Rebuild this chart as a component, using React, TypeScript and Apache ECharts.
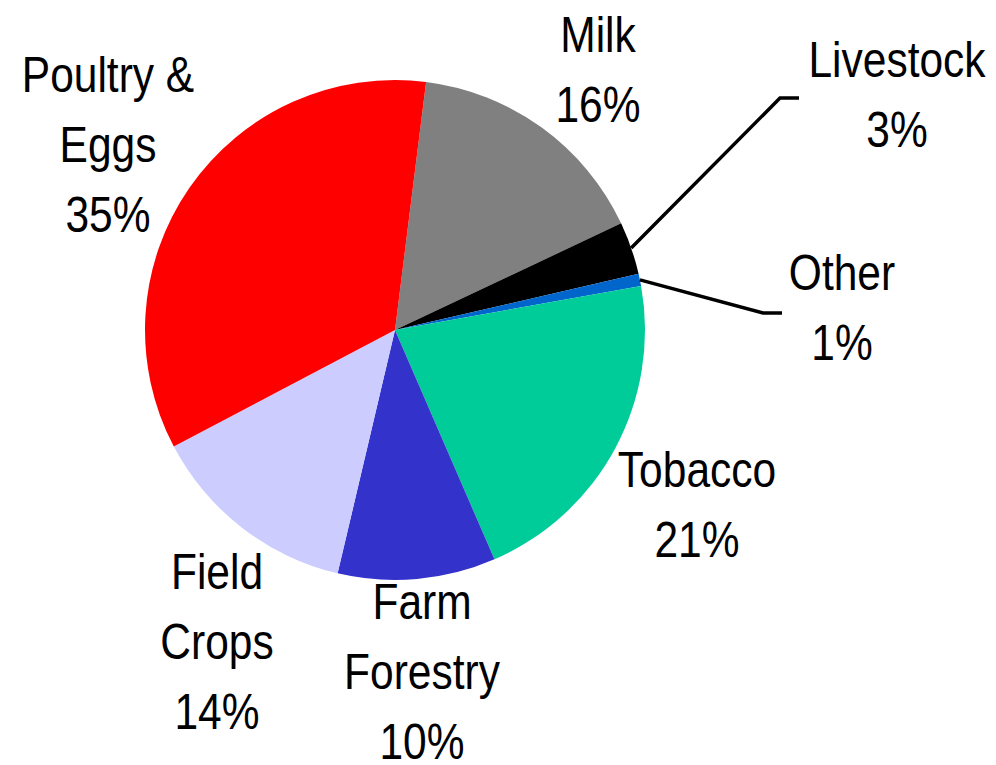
import React, { useEffect, useRef } from "react";
import * as echarts from "echarts";

const categories = ["Milk", "Livestock", "Other", "Tobacco", "Farm\nForestry", "Field\nCrops", "Poultry &\nEggs"];
const shares = [16.0, 3.4, 0.8, 21.3, 10.2, 13.6, 34.7];
const sliceColors = ["#808080", "#000000", "#0066CC", "#00CC99", "#3333CC", "#CCCCFF", "#FF0000"];

// layout (not data)
const CENTER: [number, number] = [395, 330];
const RADIUS = 250;
const START_ANGLE = 82.85;
const labelCenters: [number, number][] = [
  [598, 70],
  [897, 95],
  [842, 308],
  [697, 505],
  [422, 672],
  [217, 642],
  [108, 145],
];
const leaderElbows: ([number, number][] | null)[] = [
  null,
  [[780, 98], [799, 98]],
  [[763, 313], [782, 313]],
  null,
  null,
  null,
  null,
];

export default function App() {
  const ref = useRef<HTMLDivElement>(null);
  useEffect(() => {
    if (!ref.current) return;
    const chart = echarts.init(ref.current, null, { renderer: "svg" });
    const total = shares.reduce((a, b) => a + b, 0);

    // mid-angle of each slice (radians, math convention) for leader line anchors
    const midAngles: number[] = [];
    let acc = 0;
    shares.forEach((v) => {
      const a0 = START_ANGLE - (acc / total) * 360;
      acc += v;
      const a1 = START_ANGLE - (acc / total) * 360;
      midAngles.push((((a0 + a1) / 2) * Math.PI) / 180);
    });

    const graphics: any[] = [];
    categories.forEach((name, i) => {
      const [x, y] = labelCenters[i];
      graphics.push({
        type: "text",
        x,
        y,
        scaleX: 0.85,
        silent: true,
        style: {
          text: `${name}\n${Math.round(shares[i])}%`,
          x: 0,
          y: 0,
          align: "center",
          verticalAlign: "middle",
          fontSize: 50,
          lineHeight: 70,
          fontFamily: "'Liberation Sans', Arial, sans-serif",
          fill: "#000",
        },
      });
      const elbow = leaderElbows[i];
      if (elbow) {
        const ang = midAngles[i];
        const sx = CENTER[0] + RADIUS * Math.cos(ang);
        const sy = CENTER[1] - RADIUS * Math.sin(ang);
        graphics.push({
          type: "polyline",
          silent: true,
          shape: { points: [[sx, sy], ...elbow] },
          style: { stroke: "#000", lineWidth: 3.5, fill: null },
          z: 10,
        });
      }
    });

    chart.setOption({
      animation: false,
      backgroundColor: "#ffffff",
      graphic: graphics,
      series: [
        {
          type: "pie",
          center: CENTER,
          radius: RADIUS,
          startAngle: START_ANGLE,
          clockwise: true,
          silent: true,
          itemStyle: { borderWidth: 0 },
          label: { show: false },
          labelLine: { show: false },
          data: categories.map((name, i) => ({
            name,
            value: shares[i],
            itemStyle: { color: sliceColors[i] },
          })),
        },
      ],
    });
    return () => chart.dispose();
  }, []);
  return (
    <div
      ref={ref}
      style={{ position: "fixed", left: 0, top: 0, width: 996, height: 765, background: "#fff" }}
    />
  );
}
